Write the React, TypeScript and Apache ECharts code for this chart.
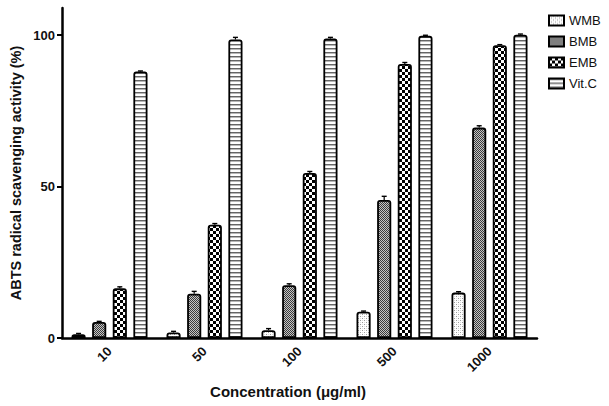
import React, { useEffect, useRef } from "react";
import * as echarts from "echarts";

const categories = ["10", "50", "100", "500", "1000"];
const seriesNames = ["WMB", "BMB", "EMB", "Vit.C"];
const wmbValues = [1.2, 1.8, 2.6, 8.7, 15.0];
const bmbValues = [5.3, 14.6, 17.4, 45.6, 69.5];
const embValues = [16.4, 37.4, 54.5, 90.5, 96.7];
const vitcValues = [88.0, 98.6, 98.9, 99.8, 100.2];
const wmbErrors = [0.3, 0.4, 0.5, 0.2, 0.3];
const bmbErrors = [0.2, 0.8, 0.5, 1.2, 0.6];
const embErrors = [0.5, 0.4, 0.5, 0.5, 0.2];
const vitcErrors = [0.2, 0.7, 0.4, 0.2, 0.2];
const yTickValues = [0, 50, 100];

const BAR_GAP = 0.46;
const CAT_GAP = 0.2;

function makePattern(w: number, h: number, draw: (ctx: CanvasRenderingContext2D) => void) {
  const c = document.createElement("canvas");
  c.width = w;
  c.height = h;
  const ctx = c.getContext("2d")!;
  ctx.fillStyle = "#ffffff";
  ctx.fillRect(0, 0, w, h);
  draw(ctx);
  return { image: c.toDataURL("image/png"), repeat: "repeat", imageWidth: w, imageHeight: h } as any;
}

export default function App() {
  const ref = useRef<HTMLDivElement>(null);
  useEffect(() => {
    if (!ref.current) return;
    const chart = echarts.init(ref.current, undefined, { renderer: "svg" });

    const patWMB = makePattern(4, 4, (ctx) => {
      ctx.fillStyle = "#9a9a9a";
      ctx.fillRect(0, 0, 1, 1);
      ctx.fillRect(2, 2, 1, 1);
      ctx.fillStyle = "#dddddd";
      ctx.fillRect(2, 0, 1, 1);
      ctx.fillRect(0, 2, 1, 1);
    });
    const patBMB = makePattern(2, 2, (ctx) => {
      ctx.fillStyle = "#c4c4c4";
      ctx.fillRect(0, 0, 2, 2);
      ctx.fillStyle = "#3a3a3a";
      ctx.fillRect(0, 0, 1, 1);
      ctx.fillRect(1, 1, 1, 1);
    });
    const patEMB = makePattern(6, 6, (ctx) => {
      ctx.fillStyle = "#000000";
      ctx.fillRect(0, 0, 3, 3);
      ctx.fillRect(3, 3, 3, 3);
    });
    const patVIT = makePattern(4, 4, (ctx) => {
      ctx.fillStyle = "#666666";
      ctx.fillRect(0, 0, 4, 1);
      ctx.fillStyle = "#b8b8b8";
      ctx.fillRect(0, 1, 4, 1);
    });

    const patterns = [patWMB, patBMB, patEMB, patVIT];
    const values = [wmbValues, bmbValues, embValues, vitcValues];
    const errors = [wmbErrors, bmbErrors, embErrors, vitcErrors];

    const barSeries = seriesNames.map((name, i) => ({
      type: "bar",
      name,
      data: values[i],
      barGap: `${BAR_GAP * 100}%`,
      barCategoryGap: `${CAT_GAP * 100}%`,
      itemStyle: { color: patterns[i], borderColor: "#000", borderWidth: 1.8, borderRadius: [2, 2, 0, 0] },
      emphasis: { disabled: true },
      z: 2,
    }));

    const errData: number[][] = [];
    values.forEach((vals, si) => {
      vals.forEach((v, ci) => errData.push([ci, v, errors[si][ci], si]));
    });

    const errSeries = {
      type: "custom",
      name: "err",
      data: errData,
      z: 3,
      silent: true,
      encode: { x: 0, y: 1 },
      renderItem: (params: any, api: any) => {
        const ci = api.value(0);
        const v = api.value(1);
        const e = api.value(2);
        const si = api.value(3);
        const band = api.size([1, 0])[0];
        const n = 4;
        const avail = band * (1 - CAT_GAP);
        const bw = avail / (n + (n - 1) * BAR_GAP);
        const center = api.coord([ci, v]);
        const x = center[0] - avail / 2 + si * bw * (1 + BAR_GAP) + bw / 2;
        const y0 = center[1];
        const y1 = api.coord([ci, v + e])[1];
        const cap = 2.5;
        return {
          type: "group",
          children: [
            { type: "line", shape: { x1: x, y1: y0, x2: x, y2: y1 }, style: { stroke: "#000", lineWidth: 1.2 } },
            { type: "line", shape: { x1: x - cap, y1: y1, x2: x + cap, y2: y1 }, style: { stroke: "#000", lineWidth: 1.4 } },
          ],
        };
      },
    };

    chart.setOption({
      animation: false,
      backgroundColor: "#ffffff",
      grid: { left: 62, right: 72, top: 8, bottom: 68, containLabel: false },
      legend: {
        data: seriesNames,
        orient: "vertical",
        left: 543,
        top: 9,
        itemWidth: 15,
        itemHeight: 10,
        itemGap: 8,
        icon: "rect",
        textStyle: { fontFamily: "Liberation Sans", fontSize: 13, color: "#111" },
        selectedMode: false,
      },
      xAxis: {
        type: "category",
        data: categories,
        axisLine: { lineStyle: { color: "#000", width: 2.5 } },
        axisTick: { alignWithLabel: true, length: 5, lineStyle: { color: "#000", width: 2 } },
        axisLabel: {
          rotate: 45,
          margin: 11,
          fontFamily: "Liberation Sans",
          fontWeight: "bold",
          fontSize: 13,
          color: "#111",
        },
      },
      yAxis: {
        type: "value",
        min: 0,
        max: 109,
        splitLine: { show: false },
        axisLine: { show: true, lineStyle: { color: "#000", width: 2.5 } },
        axisTick: { show: true, length: 5, customValues: yTickValues, lineStyle: { color: "#000", width: 2 } },
        axisLabel: {
          customValues: yTickValues,
          margin: 7,
          fontFamily: "Liberation Sans",
          fontWeight: "bold",
          fontSize: 13,
          color: "#111",
        },
      },
      graphic: [
        {
          type: "text",
          x: 16,
          y: 173,
          rotation: Math.PI / 2,
          style: {
            text: "ABTS radical scavenging activity (%)",
            fontFamily: "Liberation Sans",
            fontWeight: "bold",
            fontSize: 14.5,
            fill: "#111",
            align: "center",
            verticalAlign: "middle",
          },
        },
        {
          type: "text",
          x: 288,
          y: 391,
          style: {
            text: "Concentration (\u03bcg/ml)",
            fontFamily: "Liberation Sans",
            fontWeight: "bold",
            fontSize: 15,
            fill: "#111",
            align: "center",
            verticalAlign: "middle",
          },
        },
      ],
      series: [...barSeries, errSeries],
    } as any);

    return () => chart.dispose();
  }, []);

  return <div ref={ref} style={{ width: 609, height: 406, position: "absolute", left: 0, top: 0 }} />;
}
